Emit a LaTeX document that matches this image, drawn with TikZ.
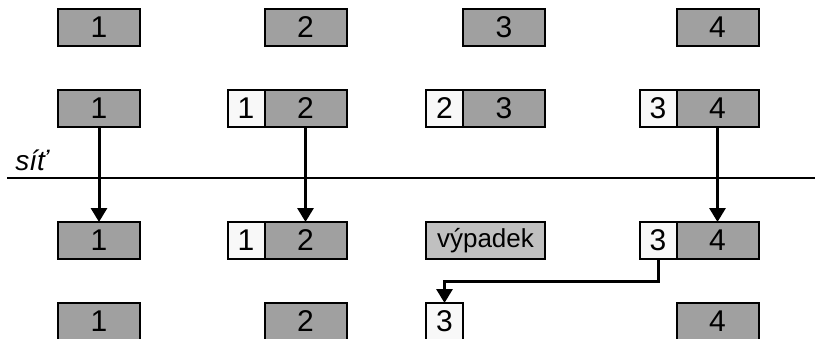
\documentclass[tikz,border=0pt]{standalone}
\usepackage{fontspec}
\setmainfont{Liberation Sans}
\usetikzlibrary{positioning}
\usetikzlibrary{arrows.meta}
\definecolor{boxgrey}{RGB}{160,160,160}
\definecolor{boxwhite}{RGB}{248,248,248}
\definecolor{lostgrey}{RGB}{192,192,192}
\tikzset{
  box/.style={draw,line width=1pt,fill=boxgrey,minimum width=41pt,minimum height=18.5pt,inner sep=0pt,outer sep=0pt,font=\fontsize{15}{17}\selectfont},
  prev/.style={box,fill=boxwhite,minimum width=18.5pt},
  lost/.style={box,fill=lostgrey,minimum width=59.5pt,font=\fontsize{13}{15}\selectfont},
  flow/.style={line width=1.5pt,-{Triangle[length=7pt,width=8pt]}}
}
\begin{document}
\begin{tikzpicture}[x=0.5pt,y=-0.5pt]
\useasboundingbox (0,0) rectangle (815,338);
% row 1
\node (a1) [box] at (99,27) {1};
\node (a2) [box] at (305.5,27) {2};
\node (a3) [box] at (504,27) {3};
\node (a4) [box] at (717.5,27) {4};
% row 2
\node (b1) [box] at (99,108) {1};
\node (b2) [box] at (305.5,108) {2};
\node (bw2) [prev, left=0pt of b2] {1};
\node (b3) [box] at (504,108) {3};
\node (bw3) [prev, left=0pt of b3] {2};
\node (b4) [box] at (717.5,108) {4};
\node (bw4) [prev, left=0pt of b4] {3};
% network
\coordinate (netl) at (7,178);
\coordinate (netr) at (815,178);
\draw[line width=1.2pt] (netl) -- (netr);
\node (net) [anchor=south west,inner sep=0pt,font=\itshape\fontsize{14}{16}\selectfont] at (15,171) {síť};
% row 3
\node (c1) [box] at (99,240.5) {1};
\node (c2) [box] at (305.5,240.5) {2};
\node (cw2) [prev, left=0pt of c2] {1};
\node (c3) [lost] at (485.5,240.5) {výpadek};
\node (c4) [box] at (717.5,240.5) {4};
\node (cw4) [prev, left=0pt of c4] {3};
% row 4
\node (d1) [box] at (99,321.5) {1};
\node (d2) [box] at (305.5,321.5) {2};
\node (d3) [prev] at (444.5,321.5) {3};
\node (d4) [box] at (717.5,321.5) {4};

\draw[flow] (b1) -- (c1);
\draw[flow] (b2) -- (c2);
\draw[flow] (b4) -- (c4);
\draw[flow] (cw4.south) -- ++(0,22) -| (d3.north);
\end{tikzpicture}
\end{document}
